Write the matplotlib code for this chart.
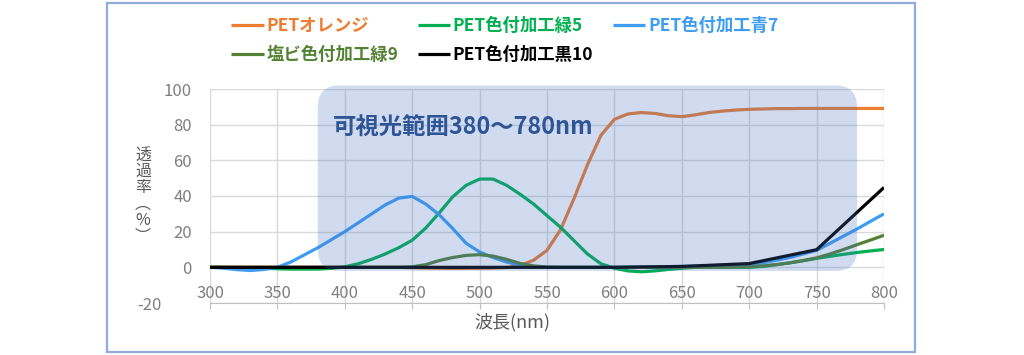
import numpy as np
import matplotlib.pyplot as plt
from matplotlib.patches import FancyBboxPatch, Rectangle
from matplotlib.transforms import ScaledTranslation

plt.rcParams['font.family'] = ['Noto Sans CJK JP', 'DejaVu Sans']
plt.rcParams['axes.unicode_minus'] = False

# wavelength (nm)
wl = np.arange(300, 801, 10)
wl_black = [300, 350, 400, 450, 500, 550, 600, 650, 700, 750, 800]

# transmittance (%)
orange = [0, 0, 0, 0, 0, 0, 0, 0, 0, 0, 0, 0, 0, 0, 0,
          -0.2, -0.4, -0.5, -0.6, -0.6, -0.5, -0.4, -0.1,
          1, 4, 9.5, 21, 38.5, 57.5, 74, 83,
          86, 86.8, 86.3, 85, 84.5, 85.5, 86.8, 87.6,
          88.2, 88.6, 88.8, 89, 89, 89.1, 89.1, 89.1,
          89.1, 89.1, 89.1, 89.1]
green = [0, 0, -0.2, -0.4, -0.6, -0.8, -1, -1,
         -1, -0.6, 0.3, 2, 4.5, 7.5, 11, 15.2,
         22, 30.5, 39.5, 46, 49.5, 49.5, 46, 41,
         35.5, 29, 22.5, 15, 7.5, 2, -0.5, -2,
         -2.5, -2, -1.2, -0.5, 0, 0, 0, 0,
         0, 0.5, 1.5, 2.5, 3.7, 5, 6.2, 7.3,
         8.3, 9.2, 10]
blue = [0, -0.5, -1.3, -1.8, -1.2, 0, 3, 7,
        11, 15.5, 20, 25, 30, 35, 38.8, 39.8,
        35.5, 29.5, 21.8, 13.5, 8.6, 5.5, 3, 1.2,
        0.4, 0, 0, 0, 0, 0, 0, 0.1,
        0.2, 0.3, 0.4, 0.5, 0.7, 0.9, 1.1, 1.3,
        1.5, 2.5, 4, 5.5, 7.5, 9.5, 13.5, 17.5,
        21.5, 25.8, 30]
olive = [0, 0, 0, 0, 0, 0, 0, 0, 0, 0, 0, 0, 0, 0, 0,
         0.3, 1.5, 3.8, 5.5, 6.7, 7.1, 6.3, 4.5,
         2.2, 0.8, 0.2, 0, 0, 0, 0, 0,
         0, 0, 0, 0, 0, 0, 0, 0,
         0.1, 0.3, 0.8, 1.5, 2.5, 3.8, 5.3, 7.5,
         10, 12.7, 15.3, 18]
black = [0, 0, 0, 0, 0, 0, 0, 0.5, 2.1, 9.9, 44.8]

labels = ['PETオレンジ', 'PET色付加工緑5', 'PET色付加工青7', '塩ビ色付加工緑9', 'PET色付加工黒10']
colors = ['#ed7d31', '#00b050', '#3d9df3', '#548235', '#000000']

fig = plt.figure(figsize=(10.24, 3.55), dpi=100)
ax = fig.add_axes([210 / 1024, 1 - 303 / 355, 674 / 1024, 214 / 355])

lines = []
series = [(wl, orange), (wl, green), (wl, blue), (wl, olive), (wl_black, black)]
for i, (xs, ys) in enumerate(series):
    ln, = ax.plot(xs, ys, color=colors[i], lw=2.3, label=labels[i],
                  zorder=3 + i, solid_capstyle='butt', solid_joinstyle='round')
    lines.append(ln)

# visible light band
band = FancyBboxPatch((380, -2), 400, 104, boxstyle='round,pad=0,rounding_size=16',
                      mutation_aspect=0.75, fc='#4472c4', ec='none', alpha=0.25,
                      zorder=10, clip_on=False)
ax.add_patch(band)
ax.text(391, 78, '可視光範囲380～780nm', color='#2f5597', fontsize=16.8,
        fontweight='bold', va='center', ha='left', zorder=11)

ax.set_xlim(300, 800)
ax.set_ylim(-20, 100)
ax.set_xticks(range(300, 801, 50))
ax.set_yticks(range(-20, 101, 20))
ax.grid(True, color='#d9d9d9', lw=1)
ax.set_axisbelow(True)
for s in ['top', 'left', 'right']:
    ax.spines[s].set_visible(False)
ax.spines['bottom'].set_color('#bfbfbf')
ax.tick_params(axis='x', length=4, color='#bfbfbf', pad=-17, labelsize=12,
               labelcolor='#7f7f7f')
ax.tick_params(axis='y', length=0, pad=13, labelsize=12, labelcolor='#7f7f7f')

# Excel pushes -20 to the left, out of the way of "300"
ylbl = ax.get_yticklabels()[0]
ylbl.set_transform(ylbl.get_transform() + ScaledTranslation(-0.30, 0.0, fig.dpi_scale_trans))

fig.text(143 / 1024, 1 - 196 / 355, '透\n過\n率\n︵\n%\n︶', fontsize=11.5,
         color='#595959', ha='center', va='center', linespacing=0.95)
fig.text(512 / 1024, 1 - 322 / 355, '波長(nm)', fontsize=13, color='#595959',
         ha='center', va='center')

order = [0, 3, 1, 4, 2]
fig.legend([lines[i] for i in order], [labels[i] for i in order], ncol=3,
           loc='upper center', bbox_to_anchor=(0.493, 0.996), frameon=False,
           labelcolor='linecolor', handlelength=1.85, handletextpad=0.15,
           columnspacing=1.15, labelspacing=0.62,
           prop={'weight': 'bold', 'size': 12.5})

fig.patches.append(Rectangle((107 / 1024, 3 / 355), 808 / 1024, 349 / 355,
                             transform=fig.transFigure, fill=False,
                             ec='#8faadc', lw=1.6))

fig.savefig('out.png', dpi=100)
